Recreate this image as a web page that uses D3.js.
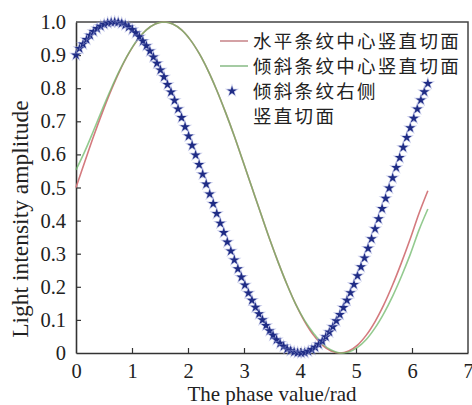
<!DOCTYPE html>
<html>
<head>
<meta charset="utf-8">
<script src="https://cdn.jsdelivr.net/npm/d3@7"></script>
<style>
  body { margin: 0; background: #fff; }
  svg text { font-family: "Liberation Serif", "DejaVu Serif", serif; fill: #222; }
  .cjk { font-family: "Noto Sans CJK SC", sans-serif !important; }
</style>
</head>
<body>
<div id="graph"></div>
<script>
// phase samples for the two solid curves (0..2pi, step pi/20)
const line_x = d3.range(41).map(i => i * Math.PI / 20);
const red_vals = [0.500, 0.578, 0.655, 0.727, 0.794, 0.854, 0.905, 0.946, 0.976, 0.994,
  1.000, 0.994, 0.976, 0.946, 0.905, 0.854, 0.794, 0.727, 0.655, 0.578,
  0.500, 0.422, 0.345, 0.273, 0.206, 0.146, 0.095, 0.054, 0.024, 0.006,
  0.000, 0.006, 0.024, 0.054, 0.095, 0.146, 0.206, 0.273, 0.345, 0.422, 0.490];
const green_vals = [0.553, 0.609, 0.672, 0.737, 0.799, 0.856, 0.906, 0.947, 0.976, 0.994,
  1.000, 0.994, 0.976, 0.946, 0.905, 0.854, 0.794, 0.727, 0.655, 0.578,
  0.500, 0.422, 0.345, 0.273, 0.206, 0.146, 0.098, 0.060, 0.028, 0.009,
  0.000, 0.003, 0.017, 0.041, 0.076, 0.120, 0.172, 0.232, 0.298, 0.372, 0.435];

// star markers (0..2pi, step pi/50)
const star_x = d3.range(101).map(i => i * Math.PI / 50);
const star_vals = [0.90, 0.92, 0.933, 0.947, 0.960, 0.971, 0.980, 0.987, 0.993, 0.997,
  0.999, 1.000, 0.999, 0.996, 0.991, 0.985, 0.977, 0.967, 0.955, 0.942,
  0.928, 0.912, 0.894, 0.875, 0.855, 0.834, 0.811, 0.788, 0.763, 0.737,
  0.711, 0.683, 0.655, 0.627, 0.598, 0.569, 0.540, 0.510, 0.480, 0.451,
  0.421, 0.392, 0.364, 0.335, 0.308, 0.281, 0.254, 0.229, 0.205, 0.181,
  0.159, 0.138, 0.118, 0.100, 0.083, 0.067, 0.053, 0.040, 0.029, 0.020,
  0.012, 0.007, 0.003, 0.001, 0.000, 0.001, 0.005, 0.010, 0.017, 0.026,
  0.036, 0.049, 0.063, 0.079, 0.097, 0.116, 0.137, 0.159, 0.182, 0.207,
  0.233, 0.260, 0.287, 0.316, 0.345, 0.375, 0.405, 0.436, 0.467, 0.498,
  0.529, 0.560, 0.590, 0.621, 0.651, 0.680, 0.709, 0.737, 0.764, 0.789, 0.814];

const x_ticks = [0, 1, 2, 3, 4, 5, 6, 7];
const y_ticks = [0, 0.1, 0.2, 0.3, 0.4, 0.5, 0.6, 0.7, 0.8, 0.9, 1.0];
const legend_labels = ["水平条纹中心竖直切面", "倾斜条纹中心竖直切面", "倾斜条纹右侧", "竖直切面"];

const width = 472, height = 405;
const margin = {left: 76, right: 4, top: 22, bottom: 52};

const svg = d3.select('#graph').append('svg')
  .attr('width', width).attr('height', height);

const x = d3.scaleLinear().domain([0, 7]).range([margin.left, width - margin.right]);
const y = d3.scaleLinear().domain([0, 1]).range([height - margin.bottom, margin.top]);

// frame (top + right)
svg.append('path')
  .attr('d', `M${x(0)},${y(1)}H${x(7)}V${y(0)}`)
  .attr('fill', 'none').attr('stroke', '#444').attr('stroke-width', 1.5);

const xAxis = svg.append('g')
  .attr('transform', `translate(0,${y(0)})`)
  .call(d3.axisBottom(x).tickValues(x_ticks).tickSizeInner(-5).tickSizeOuter(0).tickPadding(10)
    .tickFormat(d3.format('d')));
const yAxis = svg.append('g')
  .attr('transform', `translate(${x(0)},0)`)
  .call(d3.axisLeft(y).tickValues(y_ticks).tickSizeInner(-5).tickSizeOuter(0).tickPadding(10)
    .tickFormat(d => d === 0 ? '0' : d3.format('.1f')(d)));
[xAxis, yAxis].forEach(a => {
  a.selectAll('path').attr('stroke', '#333').attr('stroke-width', 1.6);
  a.selectAll('line').attr('stroke', '#333').attr('stroke-width', 1.2);
  a.selectAll('text').attr('font-size', 20.5).attr('font-family', '"Liberation Serif", serif').attr('fill', '#222');
});
xAxis.selectAll('.tick line').filter(d => d === 0 || d === 7).remove();
yAxis.selectAll('.tick line').filter(d => d === 0 || d === 1).remove();

// curves
const line = d3.line().x(d => x(d[0])).y(d => y(d[1])).curve(d3.curveCatmullRom);
svg.append('path')
  .attr('d', line(line_x.map((v, i) => [v, red_vals[i]])))
  .attr('fill', 'none').attr('stroke', '#d47a7e').attr('stroke-width', 1.6);
svg.append('path')
  .attr('d', line(line_x.map((v, i) => [v, green_vals[i]])))
  .attr('fill', 'none').attr('stroke', '#6fb86a').attr('stroke-width', 1.6).attr('stroke-opacity', 0.75);

// star markers
const star = d3.symbol().type(d3.symbolStar).size(30);
function draw_star(sel) {
  sel.attr('d', star)
    .attr('fill', '#1f2c85')
    .attr('stroke', '#9aa2d8').attr('stroke-width', 1.4).attr('stroke-opacity', 0.55)
    .attr('paint-order', 'stroke');
}
svg.append('g').selectAll('path')
  .data(star_x.map((v, i) => [v, star_vals[i]]))
  .join('path')
  .attr('transform', d => `translate(${x(d[0])},${y(d[1])})`)
  .call(draw_star);

// legend
const lg = svg.append('g');
const row_y = [41, 66, 91, 116];
lg.append('line').attr('x1', 220).attr('x2', 248).attr('y1', row_y[0]).attr('y2', row_y[0])
  .attr('stroke', '#c98a8e').attr('stroke-width', 1.6);
lg.append('line').attr('x1', 220).attr('x2', 248).attr('y1', row_y[1]).attr('y2', row_y[1])
  .attr('stroke', '#8fbf8c').attr('stroke-width', 1.6);
lg.append('path').attr('transform', `translate(232,${row_y[2]})`).call(draw_star);
lg.selectAll('text').data(legend_labels).join('text')
  .attr('class', 'cjk')
  .attr('x', 253).attr('y', (d, i) => row_y[i])
  .attr('dy', '0.36em')
  .attr('font-size', 18.5)
  .attr('letter-spacing', 2.3)
  .text(d => d);

// axis titles
svg.append('text')
  .attr('x', (x(0) + x(7)) / 2).attr('y', 401)
  .attr('text-anchor', 'middle').attr('font-size', 21)
  .text('The phase value/rad');
svg.append('text')
  .attr('transform', `translate(28,219) rotate(-90)`)
  .attr('text-anchor', 'middle').attr('font-size', 23.5)
  .text('Light intensity amplitude');
</script>
</body>
</html>
